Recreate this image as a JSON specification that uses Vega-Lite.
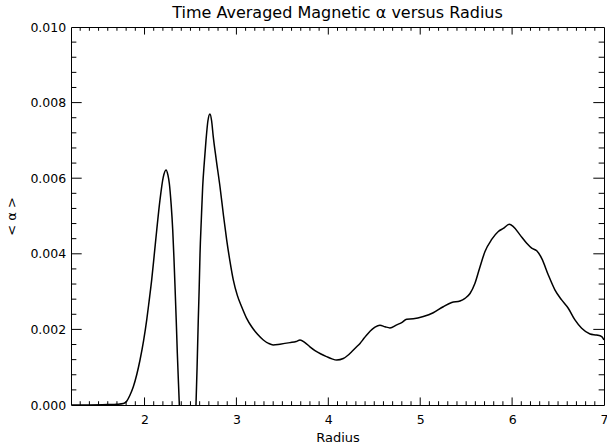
{
  "$schema": "https://vega.github.io/schema/vega-lite/v6.json",
  "width": 533,
  "height": 378,
  "autosize": {"type": "none"},
  "padding": {"left": 71, "top": 27, "right": 3, "bottom": 42},
  "background": "white",
  "title": {"text": "Time Averaged Magnetic α versus Radius", "font": "DejaVu Sans", "fontSize": 16, "fontWeight": "normal", "color": "black", "anchor": "middle", "offset": 0},
  "config": {
    "view": {"stroke": "black", "strokeWidth": 1},
    "axis": {"grid": false, "domain": false, "ticks": false, "labelColor": "black", "labelFont": "DejaVu Sans", "labelFontSize": 12.5, "titleFont": "DejaVu Sans", "titleFontSize": 13, "titleFontWeight": "normal", "titleColor": "black", "labelFlush": false, "labelOverlap": false}
  },
  "datasets": {
    "curve": [
      {"r": 1.20, "a": 0.0}, {"r": 1.40, "a": 0.0}, {"r": 1.60, "a": 0.00001}, {"r": 1.70, "a": 0.00002},
      {"r": 1.77, "a": 0.00004}, {"r": 1.806, "a": 0.0001}, {"r": 1.84, "a": 0.00025}, {"r": 1.878, "a": 0.00048},
      {"r": 1.915, "a": 0.0008}, {"r": 1.951, "a": 0.00119}, {"r": 1.99, "a": 0.0017}, {"r": 2.024, "a": 0.00225},
      {"r": 2.05, "a": 0.00275}, {"r": 2.078, "a": 0.00331}, {"r": 2.105, "a": 0.00395}, {"r": 2.133, "a": 0.00463},
      {"r": 2.168, "a": 0.00542}, {"r": 2.204, "a": 0.00603}, {"r": 2.234, "a": 0.00622}, {"r": 2.255, "a": 0.00608},
      {"r": 2.27, "a": 0.00586}, {"r": 2.29, "a": 0.0053}, {"r": 2.307, "a": 0.00463}, {"r": 2.32, "a": 0.0039},
      {"r": 2.332, "a": 0.00313}, {"r": 2.345, "a": 0.00225}, {"r": 2.357, "a": 0.00137}, {"r": 2.37, "a": 0.00055},
      {"r": 2.379, "a": 0.0}, {"r": 2.40, "a": -0.0012}, {"r": 2.43, "a": -0.0026}, {"r": 2.47, "a": -0.0032},
      {"r": 2.51, "a": -0.0026}, {"r": 2.54, "a": -0.001}, {"r": 2.56, "a": 0.0}, {"r": 2.572, "a": 0.001},
      {"r": 2.585, "a": 0.00225}, {"r": 2.595, "a": 0.0031}, {"r": 2.604, "a": 0.004}, {"r": 2.618, "a": 0.0049},
      {"r": 2.633, "a": 0.00578}, {"r": 2.65, "a": 0.0064}, {"r": 2.669, "a": 0.007}, {"r": 2.69, "a": 0.00752},
      {"r": 2.712, "a": 0.0077}, {"r": 2.73, "a": 0.00752}, {"r": 2.748, "a": 0.0071}, {"r": 2.78, "a": 0.0065},
      {"r": 2.821, "a": 0.00578}, {"r": 2.86, "a": 0.005}, {"r": 2.894, "a": 0.00437}, {"r": 2.93, "a": 0.0038},
      {"r": 2.966, "a": 0.00331}, {"r": 3.01, "a": 0.0029}, {"r": 3.057, "a": 0.0026}, {"r": 3.11, "a": 0.0023},
      {"r": 3.166, "a": 0.00207}, {"r": 3.23, "a": 0.00187}, {"r": 3.293, "a": 0.00172}, {"r": 3.35, "a": 0.00163},
      {"r": 3.40, "a": 0.00159}, {"r": 3.474, "a": 0.00161}, {"r": 3.583, "a": 0.00165}, {"r": 3.65, "a": 0.00168},
      {"r": 3.692, "a": 0.00172}, {"r": 3.746, "a": 0.00165}, {"r": 3.80, "a": 0.00154}, {"r": 3.855, "a": 0.00144},
      {"r": 3.92, "a": 0.00135}, {"r": 3.982, "a": 0.00128}, {"r": 4.04, "a": 0.00122}, {"r": 4.091, "a": 0.00119},
      {"r": 4.163, "a": 0.00123}, {"r": 4.21, "a": 0.00131}, {"r": 4.254, "a": 0.00141}, {"r": 4.30, "a": 0.00152},
      {"r": 4.345, "a": 0.00163}, {"r": 4.39, "a": 0.00177}, {"r": 4.435, "a": 0.0019}, {"r": 4.508, "a": 0.00206},
      {"r": 4.562, "a": 0.00211}, {"r": 4.617, "a": 0.00207}, {"r": 4.671, "a": 0.00204}, {"r": 4.744, "a": 0.00212},
      {"r": 4.798, "a": 0.00218}, {"r": 4.853, "a": 0.00227}, {"r": 4.925, "a": 0.00228}, {"r": 5.034, "a": 0.00234},
      {"r": 5.142, "a": 0.00244}, {"r": 5.251, "a": 0.0026}, {"r": 5.343, "a": 0.00271}, {"r": 5.433, "a": 0.00275},
      {"r": 5.487, "a": 0.00282}, {"r": 5.542, "a": 0.00295}, {"r": 5.596, "a": 0.00322}, {"r": 5.651, "a": 0.00366},
      {"r": 5.705, "a": 0.00406}, {"r": 5.778, "a": 0.00438}, {"r": 5.85, "a": 0.00459}, {"r": 5.904, "a": 0.00467},
      {"r": 5.969, "a": 0.00478}, {"r": 6.013, "a": 0.00472}, {"r": 6.086, "a": 0.0045}, {"r": 6.159, "a": 0.00428},
      {"r": 6.213, "a": 0.00415}, {"r": 6.268, "a": 0.00408}, {"r": 6.322, "a": 0.00388}, {"r": 6.394, "a": 0.00344},
      {"r": 6.467, "a": 0.00304}, {"r": 6.539, "a": 0.00278}, {"r": 6.611, "a": 0.00256}, {"r": 6.684, "a": 0.00225},
      {"r": 6.757, "a": 0.00203}, {"r": 6.848, "a": 0.00188}, {"r": 6.92, "a": 0.00185}, {"r": 6.975, "a": 0.00181},
      {"r": 7.0, "a": 0.00172}
    ],
    "xt": [
      {"t": 1.3, "k": "minor"}, {"t": 1.4, "k": "minor"}, {"t": 1.5, "k": "minor"}, {"t": 1.6, "k": "minor"}, {"t": 1.7, "k": "minor"}, {"t": 1.8, "k": "minor"}, {"t": 1.9, "k": "minor"},
      {"t": 2, "k": "major"},
      {"t": 2.1, "k": "minor"}, {"t": 2.2, "k": "minor"}, {"t": 2.3, "k": "minor"}, {"t": 2.4, "k": "minor"}, {"t": 2.5, "k": "minor"}, {"t": 2.6, "k": "minor"}, {"t": 2.7, "k": "minor"}, {"t": 2.8, "k": "minor"}, {"t": 2.9, "k": "minor"},
      {"t": 3, "k": "major"},
      {"t": 3.1, "k": "minor"}, {"t": 3.2, "k": "minor"}, {"t": 3.3, "k": "minor"}, {"t": 3.4, "k": "minor"}, {"t": 3.5, "k": "minor"}, {"t": 3.6, "k": "minor"}, {"t": 3.7, "k": "minor"}, {"t": 3.8, "k": "minor"}, {"t": 3.9, "k": "minor"},
      {"t": 4, "k": "major"},
      {"t": 4.1, "k": "minor"}, {"t": 4.2, "k": "minor"}, {"t": 4.3, "k": "minor"}, {"t": 4.4, "k": "minor"}, {"t": 4.5, "k": "minor"}, {"t": 4.6, "k": "minor"}, {"t": 4.7, "k": "minor"}, {"t": 4.8, "k": "minor"}, {"t": 4.9, "k": "minor"},
      {"t": 5, "k": "major"},
      {"t": 5.1, "k": "minor"}, {"t": 5.2, "k": "minor"}, {"t": 5.3, "k": "minor"}, {"t": 5.4, "k": "minor"}, {"t": 5.5, "k": "minor"}, {"t": 5.6, "k": "minor"}, {"t": 5.7, "k": "minor"}, {"t": 5.8, "k": "minor"}, {"t": 5.9, "k": "minor"},
      {"t": 6, "k": "major"},
      {"t": 6.1, "k": "minor"}, {"t": 6.2, "k": "minor"}, {"t": 6.3, "k": "minor"}, {"t": 6.4, "k": "minor"}, {"t": 6.5, "k": "minor"}, {"t": 6.6, "k": "minor"}, {"t": 6.7, "k": "minor"}, {"t": 6.8, "k": "minor"}, {"t": 6.9, "k": "minor"}
    ],
    "yt": [
      {"t": 0.0004, "k": "minor"}, {"t": 0.0008, "k": "minor"}, {"t": 0.0012, "k": "minor"}, {"t": 0.0016, "k": "minor"},
      {"t": 0.002, "k": "major"},
      {"t": 0.0024, "k": "minor"}, {"t": 0.0028, "k": "minor"}, {"t": 0.0032, "k": "minor"}, {"t": 0.0036, "k": "minor"},
      {"t": 0.004, "k": "major"},
      {"t": 0.0044, "k": "minor"}, {"t": 0.0048, "k": "minor"}, {"t": 0.0052, "k": "minor"}, {"t": 0.0056, "k": "minor"},
      {"t": 0.006, "k": "major"},
      {"t": 0.0064, "k": "minor"}, {"t": 0.0068, "k": "minor"}, {"t": 0.0072, "k": "minor"}, {"t": 0.0076, "k": "minor"},
      {"t": 0.008, "k": "major"},
      {"t": 0.0084, "k": "minor"}, {"t": 0.0088, "k": "minor"}, {"t": 0.0092, "k": "minor"}, {"t": 0.0096, "k": "minor"}
    ]
  },
  "layer": [
    {
      "data": {"name": "curve"},
      "mark": {"type": "line", "color": "black", "strokeWidth": 1.5, "clip": true, "interpolate": "monotone"},
      "encoding": {
        "x": {"field": "r", "type": "quantitative", "scale": {"domain": [1.2, 7], "nice": false, "zero": false},
              "axis": {"orient": "bottom", "values": [2, 3, 4, 5, 6, 7], "labelPadding": 8.5, "format": "d", "title": "Radius", "titlePadding": 5}},
        "y": {"field": "a", "type": "quantitative", "scale": {"domain": [0, 0.01], "nice": false, "zero": false},
              "axis": {"orient": "left", "values": [0, 0.002, 0.004, 0.006, 0.008, 0.01], "labelPadding": 5.3, "format": ".3f", "title": "< α >", "titlePadding": 11}}
      }
    },
    {
      "data": {"name": "xt"},
      "transform": [{"filter": "datum.k === 'major'"}],
      "mark": {"type": "rule", "color": "black", "strokeWidth": 1},
      "encoding": {
        "x": {"field": "t", "type": "quantitative", "scale": {"domain": [1.2, 7], "nice": false, "zero": false}},
        "y": {"datum": 0, "type": "quantitative", "scale": {"domain": [0, 0.01], "nice": false, "zero": false}},
        "y2": {"datum": 0.0002}
      }
    },
    {
      "data": {"name": "xt"},
      "transform": [{"filter": "datum.k === 'minor'"}],
      "mark": {"type": "rule", "color": "black", "strokeWidth": 1},
      "encoding": {
        "x": {"field": "t", "type": "quantitative", "scale": {"domain": [1.2, 7], "nice": false, "zero": false}},
        "y": {"datum": 0, "type": "quantitative", "scale": {"domain": [0, 0.01], "nice": false, "zero": false}},
        "y2": {"datum": 0.0001}
      }
    },
    {
      "data": {"name": "xt"},
      "transform": [{"filter": "datum.k === 'major'"}],
      "mark": {"type": "rule", "color": "black", "strokeWidth": 1},
      "encoding": {
        "x": {"field": "t", "type": "quantitative", "scale": {"domain": [1.2, 7], "nice": false, "zero": false}},
        "y": {"datum": 0.01, "type": "quantitative", "scale": {"domain": [0, 0.01], "nice": false, "zero": false}},
        "y2": {"datum": 0.0098}
      }
    },
    {
      "data": {"name": "xt"},
      "transform": [{"filter": "datum.k === 'minor'"}],
      "mark": {"type": "rule", "color": "black", "strokeWidth": 1},
      "encoding": {
        "x": {"field": "t", "type": "quantitative", "scale": {"domain": [1.2, 7], "nice": false, "zero": false}},
        "y": {"datum": 0.01, "type": "quantitative", "scale": {"domain": [0, 0.01], "nice": false, "zero": false}},
        "y2": {"datum": 0.0099}
      }
    },
    {
      "data": {"name": "yt"},
      "transform": [{"filter": "datum.k === 'major'"}],
      "mark": {"type": "rule", "color": "black", "strokeWidth": 1},
      "encoding": {
        "y": {"field": "t", "type": "quantitative", "scale": {"domain": [0, 0.01], "nice": false, "zero": false}},
        "x": {"datum": 1.2, "type": "quantitative", "scale": {"domain": [1.2, 7], "nice": false, "zero": false}},
        "x2": {"datum": 1.3164}
      }
    },
    {
      "data": {"name": "yt"},
      "transform": [{"filter": "datum.k === 'minor'"}],
      "mark": {"type": "rule", "color": "black", "strokeWidth": 1},
      "encoding": {
        "y": {"field": "t", "type": "quantitative", "scale": {"domain": [0, 0.01], "nice": false, "zero": false}},
        "x": {"datum": 1.2, "type": "quantitative", "scale": {"domain": [1.2, 7], "nice": false, "zero": false}},
        "x2": {"datum": 1.2582}
      }
    },
    {
      "data": {"name": "yt"},
      "transform": [{"filter": "datum.k === 'major'"}],
      "mark": {"type": "rule", "color": "black", "strokeWidth": 1},
      "encoding": {
        "y": {"field": "t", "type": "quantitative", "scale": {"domain": [0, 0.01], "nice": false, "zero": false}},
        "x": {"datum": 7, "type": "quantitative", "scale": {"domain": [1.2, 7], "nice": false, "zero": false}},
        "x2": {"datum": 6.8836}
      }
    },
    {
      "data": {"name": "yt"},
      "transform": [{"filter": "datum.k === 'minor'"}],
      "mark": {"type": "rule", "color": "black", "strokeWidth": 1},
      "encoding": {
        "y": {"field": "t", "type": "quantitative", "scale": {"domain": [0, 0.01], "nice": false, "zero": false}},
        "x": {"datum": 7, "type": "quantitative", "scale": {"domain": [1.2, 7], "nice": false, "zero": false}},
        "x2": {"datum": 6.9418}
      }
    }
  ]
}
